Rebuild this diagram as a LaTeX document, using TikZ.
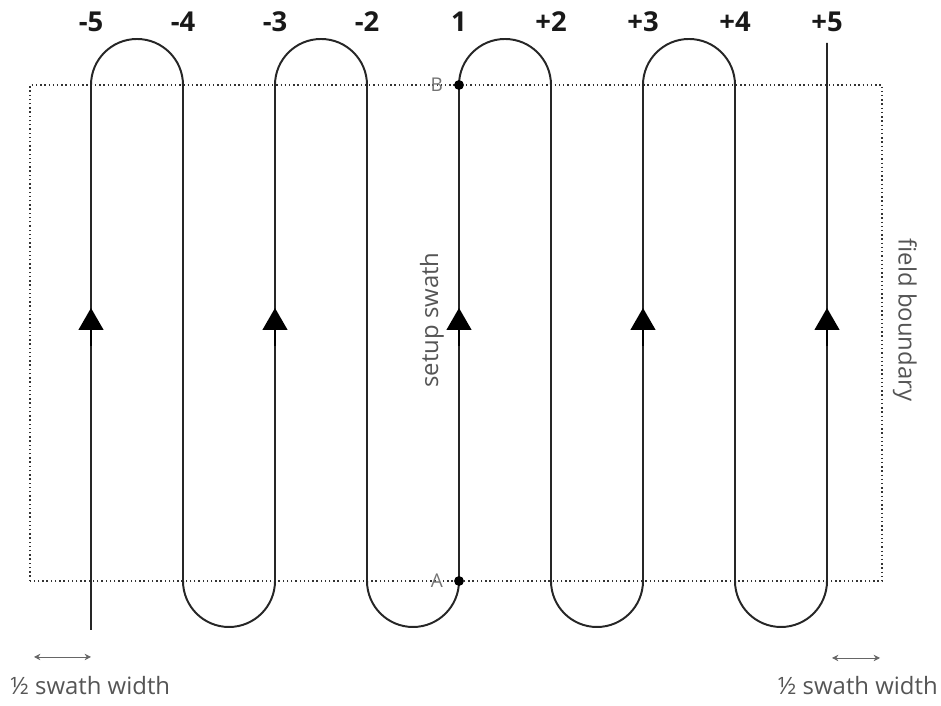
\documentclass[tikz,border=0pt]{standalone}
\usepackage{fontspec}
\setmainfont{Open Sans}
\usepackage{xcolor}
\usepackage{tikz}
\usetikzlibrary{arrows.meta,positioning}
\definecolor{swathgray}{RGB}{85,85,85}

\begin{document}
\begin{tikzpicture}[
    swath/.style={line width=1.4pt, black!85},
    boundary/.style={dotted, line width=1pt, black!80},
    uptip/.style={-{Triangle[length=0.55cm, width=0.62cm]}, line width=1.4pt, black},
    passno/.style={font=\fontsize{19.5}{22}\selectfont\bfseries, black!90},
    dot/.style={circle, fill=black, inner sep=0pt, minimum size=7pt},
    ptlabel/.style={font=\fontsize{13.5}{15}\selectfont, black!55},
    note/.style={font=\fontsize{17}{19}\selectfont, swathgray},
    halfswath/.style={{Stealth[length=1.6mm, width=1.6mm]}-{Stealth[length=1.6mm, width=1.6mm]}, line width=0.6pt, black!60},
]
    \useasboundingbox (0,0) rectangle (23.525,17.65);

    % Field boundary
    \draw[boundary] (0.75,3.125) rectangle (22.05,15.525);

    % Guidance pattern
    \draw[swath] (2.275,1.9) -- (2.275,15.525)
        arc[start angle=180, end angle=0, radius=1.15] -- ++(0,-12.4)
        arc[start angle=180, end angle=360, radius=1.15] -- ++(0,12.4)
        arc[start angle=180, end angle=0, radius=1.15] -- ++(0,-12.4)
        arc[start angle=180, end angle=360, radius=1.15] -- ++(0,12.4)
        arc[start angle=180, end angle=0, radius=1.15] -- ++(0,-12.4)
        arc[start angle=180, end angle=360, radius=1.15] -- ++(0,12.4)
        arc[start angle=180, end angle=0, radius=1.15] -- ++(0,-12.4)
        arc[start angle=180, end angle=360, radius=1.15] -- (20.675,16.575);

    % Direction of travel
    \foreach \x in {2.275, 6.875, 11.475, 16.075, 20.675} {
        \draw[uptip] (\x,9.0) -- (\x,9.95);
    }

    % Pass numbers
    \foreach \x/\name/\txt in {2.275/m5/-5, 4.575/m4/-4, 6.875/m3/-3, 9.175/m2/-2,
                               11.475/p1/1, 13.775/p2/+2, 16.075/p3/+3,
                               18.375/p4/+4, 20.675/p5/+5} {
        \node[passno] (\name) at (\x,17.1) {\txt};
    }

    % Setup swath end points
    \node[dot] (A) at (11.475,3.125) {};
    \node[dot] (B) at (11.475,15.525) {};
    \node[ptlabel, left=0.15cm of A] (Alab) {A};
    \node[ptlabel, left=0.15cm of B] (Blab) {B};

    \node[note, rotate=90] (setup) at (10.8,9.65) {setup swath};
    \node[note, rotate=-90] (field) at (22.62,9.65) {field boundary};

    % Half swath widths
    \coordinate (hl1) at (0.85,1.225);
    \coordinate (hl2) at (2.275,1.225);
    \coordinate (hr1) at (20.8,1.2);
    \coordinate (hr2) at (22.0,1.2);
    \draw[halfswath] (hl1) -- (hl2);
    \draw[halfswath] (hr1) -- (hr2);
    \node[note, anchor=west, inner sep=0pt] (hleft) at (0.25,0.5) {½ swath width};
    \node[note, anchor=east, inner sep=0pt] (hright) at (23.45,0.5) {½ swath width};
\end{tikzpicture}
\end{document}
